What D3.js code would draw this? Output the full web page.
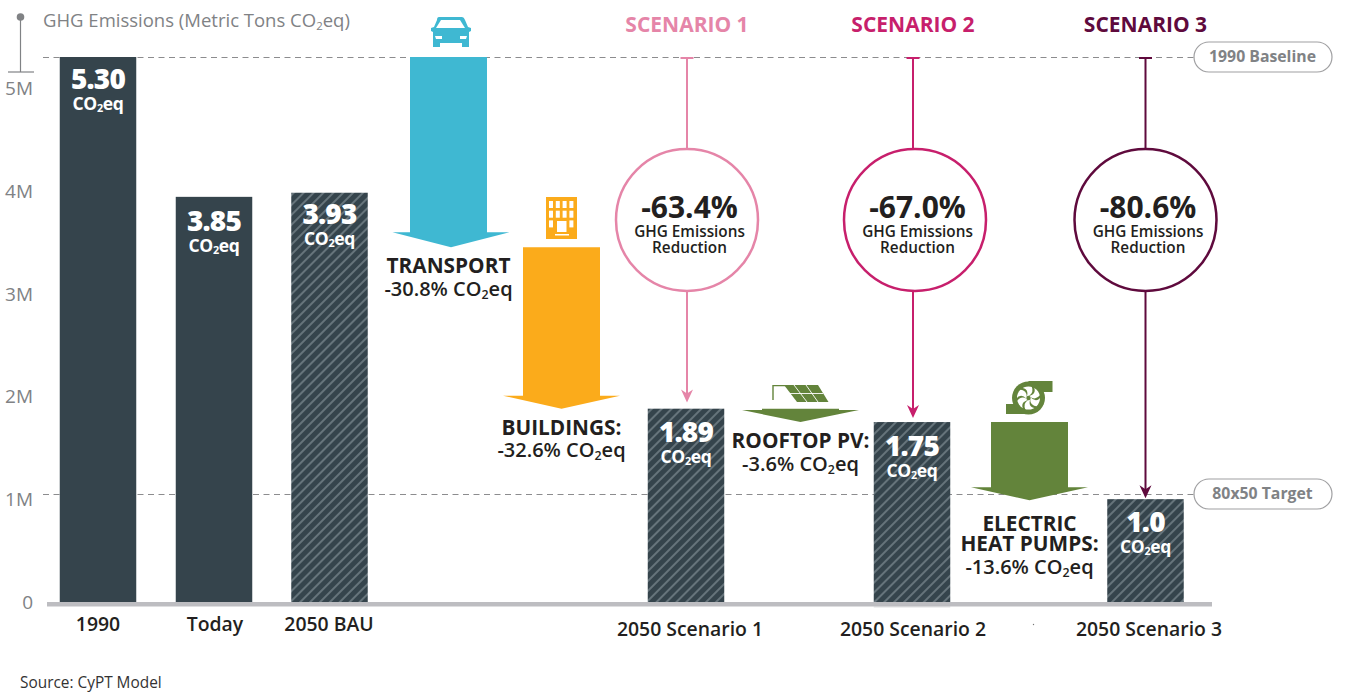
<!DOCTYPE html>
<html>
<head>
<meta charset="utf-8">
<title>GHG Emissions</title>
<script src="https://cdn.jsdelivr.net/npm/d3@7"></script>
<style>
html, body { margin: 0; padding: 0; background: #fff; }
svg { display: block; font-family: "Open Sans", sans-serif; }
</style>
</head>
<body>
<div id="chart"></div>
<script>
// data
const categories = ["1990", "Today", "2050 BAU", "2050 Scenario 1", "2050 Scenario 2", "2050 Scenario 3"];
const barHeights = [5.30, 3.94, 3.98, 1.88, 1.75, 1.00];
const barLabels = ["5.30", "3.85", "3.93", "1.89", "1.75", "1.0"];
const barHatched = [false, false, true, true, true, true];

const yTicks = [0, 1, 2, 3, 4, 5];
const referenceNames = ["1990 Baseline", "80x50 Target"];
const referenceValues = [5.30, 1.05];

const stepNames = ["TRANSPORT", "BUILDINGS", "ROOFTOP PV", "HEAT PUMPS"];
const stepFrom = [5.30, 3.45, 1.88, 1.75];
const stepTo = [3.45, 1.88, 1.75, 0.99];
const stepLabels = [
    ["TRANSPORT", "-30.8% CO2eq"],
    ["BUILDINGS:", "-32.6% CO2eq"],
    ["ROOFTOP PV:", "-3.6% CO2eq"],
    ["ELECTRIC", "HEAT PUMPS:", "-13.6% CO2eq"]
];

const scenarioNames = ["SCENARIO 1", "SCENARIO 2", "SCENARIO 3"];
const scenarioReductions = ["-63.4%", "-67.0%", "-80.6%"];
const scenarioArrowEnds = [1.94, 1.79, 1.01];

const width = 1356, height = 698;
const dark = "#35444c", hatch = "#66747b", grey = "#808285", ink = "#231f20";
const barWidth = 76.5, shaftWidth = 77;

const svg = d3.select("#chart").append("svg")
    .attr("width", width)
    .attr("height", height);

const y = d3.scaleLinear().domain([0, 5.3]).range([602, 57]);

const xBar = d3.scaleOrdinal().domain(categories).range([98, 214, 329.5, 686, 912, 1145.5]);
const xLabel = d3.scaleOrdinal().domain(categories).range([98, 215, 329, 690, 913, 1149]);
const xStep = d3.scaleOrdinal().domain(stepNames).range([448.5, 561.5, 800.5, 1029.5]);
const xScenario = d3.scaleOrdinal().domain(scenarioNames).range([687, 913, 1145.5]);
const colorStep = d3.scaleOrdinal().domain(stepNames).range(["#3fb8d2", "#fbab1b", "#63843b", "#63843b"]);
const colorScenario = d3.scaleOrdinal().domain(scenarioNames).range(["#e585a8", "#c71f6c", "#5f0a3d"]);

// writes "CO2eq" with a real subscript
let addText = function(sel, str) {
    let parts = str.split("CO2eq");
    sel.text(null);
    sel.append("tspan").text(parts[0]);
    if (parts.length > 1) {
        sel.append("tspan").text("CO");
        sel.append("tspan").text("2").attr("font-size", "0.62em").attr("dy", "0.22em");
        sel.append("tspan").text("eq").attr("dy", "-0.135em");
        sel.append("tspan").text(parts[1]);
    }
    return sel;
};

let label = function(x, yPos, str, size, weight, fill, anchor) {
    return svg.append("text")
        .attr("x", x)
        .attr("y", yPos)
        .attr("font-size", size)
        .attr("font-weight", weight)
        .attr("fill", fill)
        .attr("text-anchor", anchor || "middle")
        .call(addText, str);
};

svg.append("defs").append("pattern")
    .attr("id", "stripes")
    .attr("width", 7)
    .attr("height", 7)
    .attr("patternUnits", "userSpaceOnUse")
    .attr("patternTransform", "rotate(45)")
    .call(p => {
        p.append("rect").attr("width", 7).attr("height", 7).attr("fill", dark);
        p.append("rect").attr("width", 2).attr("height", 7).attr("fill", hatch);
    });

// reference lines and pills
referenceNames.forEach((name, i) => {
    let yRef = Math.round(y(referenceValues[i])) + 0.5;
    svg.append("line")
        .attr("x1", 43).attr("x2", 1194)
        .attr("y1", yRef).attr("y2", yRef)
        .attr("stroke", "#8c8c8e")
        .attr("stroke-width", 1)
        .attr("stroke-dasharray", "6,4.5");
    svg.append("rect")
        .attr("x", 1194).attr("y", yRef - 15.5)
        .attr("width", 138).attr("height", 30)
        .attr("rx", 15)
        .attr("fill", "#fff")
        .attr("stroke", "#a0a0a2")
        .attr("stroke-width", 1.2);
    label(1262.5, yRef + 4.5, name, 15.8, 700, grey);
});

// y axis
let axis = svg.append("g")
    .attr("transform", "translate(33,0.5)")
    .call(d3.axisLeft(y)
        .tickValues(yTicks)
        .tickSize(0)
        .tickPadding(0)
        .tickFormat(d => d === 0 ? "0" : d + "M"));
axis.select(".domain").remove();
axis.selectAll("text")
    .attr("font-family", "'Open Sans', sans-serif")
    .attr("font-size", 19)
    .attr("fill", grey);

svg.append("circle").attr("cx", 20.5).attr("cy", 17).attr("r", 3.8).attr("fill", grey);
svg.append("line").attr("x1", 20.5).attr("x2", 20.5).attr("y1", 17).attr("y2", 72)
    .attr("stroke", grey).attr("stroke-width", 1.2);
svg.append("line").attr("x1", 8).attr("x2", 34).attr("y1", 72).attr("y2", 72)
    .attr("stroke", grey).attr("stroke-width", 1.2);
label(43, 27, "GHG Emissions (Metric Tons CO2eq)", 18.5, 400, grey, "start");

// bars
svg.selectAll(".bar")
    .data(categories)
    .enter().append("rect")
    .attr("class", "bar")
    .attr("x", d => xBar(d) - barWidth / 2)
    .attr("y", (d, i) => y(barHeights[i]))
    .attr("width", barWidth)
    .attr("height", (d, i) => y(0) - y(barHeights[i]))
    .attr("fill", (d, i) => barHatched[i] ? "url(#stripes)" : dark);

// x baseline
svg.append("rect").attr("x", 47).attr("y", 602).attr("width", 1165).attr("height", 4.5).attr("fill", "#bdbdc1");
svg.append("rect").attr("x", xBar(categories[4]) - barWidth / 2).attr("y", 606.5).attr("width", barWidth).attr("height", 0.8).attr("fill", "#c9c9cc");

// value labels inside the bars
const valueBaselines = [89, 231, 224, 442, 456, 532];
categories.forEach((c, i) => {
    label(xBar(c), valueBaselines[i], barLabels[i], 28, 800, "#fff").attr("letter-spacing", -0.8);
    label(xBar(c), valueBaselines[i] + 21, "CO2eq", 17.5, 700, "#fff").attr("letter-spacing", -0.3);
    label(xLabel(c), i < 3 ? 631 : 636, c, 19.4, 600, ink);
});

// waterfall arrows
const headDrop = [15, 13, 12, 13];
const headShift = [2.5, 0, 0, 0];
const stepLabelBaselines = [[273, 296], [435, 457], [448, 471], [531, 551, 574]];
stepNames.forEach((name, i) => {
    let cx = xStep(name), top = y(stepFrom[i]), tip = y(stepTo[i]), neck = tip - headDrop[i];
    let shaft = shaftWidth / 2, head = 58.5, hx = cx + headShift[i];
    let path = d3.path();
    path.moveTo(cx - shaft, top);
    path.lineTo(cx + shaft, top);
    path.lineTo(cx + shaft, neck);
    path.lineTo(hx + head, neck);
    path.lineTo(hx, tip);
    path.lineTo(hx - head, neck);
    path.lineTo(cx - shaft, neck);
    path.closePath();
    svg.append("path").attr("d", path.toString()).attr("fill", colorStep(name));

    stepLabels[i].forEach((line, j) => {
        let isLast = j === stepLabels[i].length - 1;
        label(cx, stepLabelBaselines[i][j], line, isLast ? 20 : 20.8, isLast ? 600 : 700, ink);
    });
});

// scenario stems, circles and text
scenarioNames.forEach((name, i) => {
    let cx = xScenario(name), col = colorScenario(name);
    let tip = y(scenarioArrowEnds[i]);
    let circleX = cx + (i === 1 ? 2 : 0);
    label(cx, 32, name, 21, 700, col);
    svg.append("line").attr("x1", cx - 6.5).attr("x2", cx + 6.5).attr("y1", 58).attr("y2", 58)
        .attr("stroke", col).attr("stroke-width", 2);
    svg.append("line").attr("x1", cx).attr("x2", cx).attr("y1", 58).attr("y2", tip - 4)
        .attr("stroke", col).attr("stroke-width", 2);
    let head = d3.path();
    head.moveTo(cx, tip);
    head.lineTo(cx - 6, tip - 13);
    head.lineTo(cx, tip - 9);
    head.lineTo(cx + 6, tip - 13);
    head.closePath();
    svg.append("path").attr("d", head.toString()).attr("fill", col);
    svg.append("circle").attr("cx", circleX).attr("cy", 220).attr("r", 71)
        .attr("fill", "#fff").attr("stroke", col).attr("stroke-width", 2.5);
    label(circleX + 2.5, 218, scenarioReductions[i], 30, 700, ink);
    label(circleX + 2.5, 237, "GHG Emissions", 15.3, 600, ink);
    label(circleX + 2.5, 253, "Reduction", 15.3, 600, ink);
});

// icons, drawn as small shapes above each arrow
let carIcon = function(g) {
    g.append("path").attr("fill", "#3fb8d2").attr("d",
        "M439,17 L462,17 Q464,17 465,20 L468,27 L471,28 L471,31 L469,32 L469,47 L462,47 L462,43 L440,43 L440,47 L433,47 L433,32 L431,31 L431,28 L434,27 L437,20 Q437,17 439,17 Z");
    g.append("path").attr("fill", "#fff").attr("d", "M441,20 L460,20 L465,28 L436,28 Z");
    g.append("path").attr("fill", "#fff").attr("d", "M435,36 L442,36 L442,39 L436,39 Z M460,36 L467,36 L466,39 L460,39 Z");
};
let buildingIcon = function(g) {
    g.append("rect").attr("x", 546).attr("y", 197).attr("width", 31).attr("height", 42).attr("fill", "#fbab1b");
    [0, 1, 2, 3].forEach(c => [0, 1, 2].forEach(r => {
        if (r === 2 && (c === 1 || c === 2)) return;
        g.append("rect").attr("x", 549 + c * 6.8).attr("y", 201 + r * 9.7).attr("width", 4).attr("height", 7).attr("fill", "#fff");
    }));
    g.append("rect").attr("x", 557).attr("y", 221).attr("width", 9.5).attr("height", 11).attr("fill", "#fff");
    g.append("rect").attr("x", 555).attr("y", 234).attr("width", 14).attr("height", 1.5).attr("fill", "#fff");
};
let solarIcon = function(g) {
    g.append("path").attr("fill", "#63843b").attr("d", "M784,385 L818,385 L828.5,402 L797,402 Z");
    g.append("path").attr("fill", "none").attr("stroke", "#fff").attr("stroke-width", 0.9)
        .attr("d", "M790,393.5 L823,393.5 M794,385 L807,402 M806,385 L818,402");
    g.append("path").attr("fill", "none").attr("stroke", "#63843b").attr("stroke-width", 1.4)
        .attr("d", "M773,400 L773,385.6 L785,385.6");
};
let turbineIcon = function(g) {
    let cx = 1028.5, cy = 398;
    g.append("rect").attr("x", cx).attr("y", 381).attr("width", 24).attr("height", 11).attr("fill", "#63843b");
    g.append("rect").attr("x", 1006).attr("y", 404).attr("width", cx - 1006).attr("height", 10).attr("fill", "#63843b");
    g.append("circle").attr("cx", cx).attr("cy", cy).attr("r", 16.5).attr("fill", "#63843b");
    g.append("circle").attr("cx", cx).attr("cy", cy).attr("r", 11.5).attr("fill", "#fff");
    d3.range(6).forEach(k => {
        g.append("path").attr("fill", "#63843b")
            .attr("transform", "translate(" + cx + "," + cy + ") rotate(" + k * 60 + ")")
            .attr("d", "M0,-2 Q6,-5 3,-12 L5,-12 Q9,-4 0,-2 Z");
    });
    g.append("circle").attr("cx", cx).attr("cy", cy).attr("r", 2.2).attr("fill", "#63843b");
};
svg.append("g").call(carIcon);
svg.append("g").call(buildingIcon);
svg.append("g").call(solarIcon);
svg.append("g").call(turbineIcon);

svg.append("circle").attr("cx", 1033.5).attr("cy", 624.5).attr("r", 0.7).attr("fill", "#777");
label(20, 688, "Source: CyPT Model", 15.4, 400, "#333", "start");
</script>
</body>
</html>
